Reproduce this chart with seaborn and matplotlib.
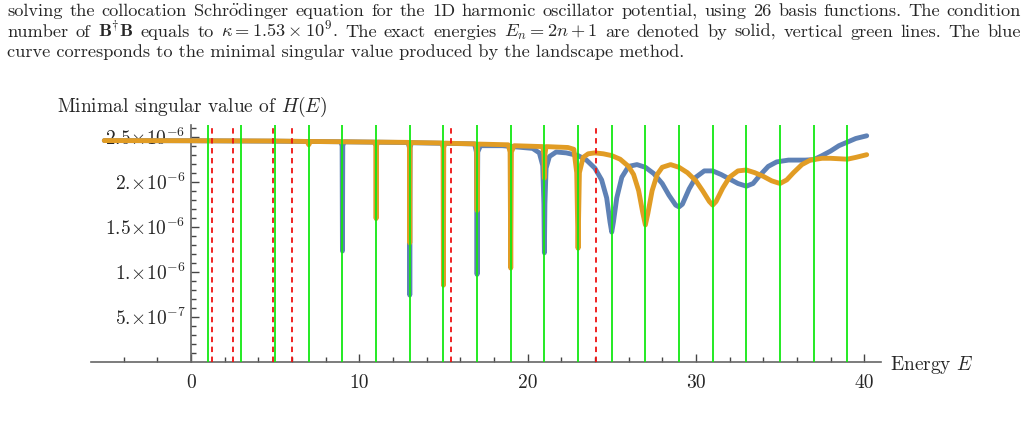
import re
import numpy as np
import pandas as pd
import matplotlib
matplotlib.use("Agg")
import matplotlib.pyplot as plt
import seaborn as sns

# ---- data (singular values in units of 1e-6) ----
blue_E = [-5.15, 0, 5, 8.9, 8.98, 9.0, 9.02, 9.1, 12.9, 12.98, 13.0, 13.02, 13.1,
          16.85, 16.96, 17.0, 17.04, 17.2, 18.5, 20.3, 20.7, 20.9, 20.97, 21.0, 21.03,
          21.1, 21.3, 21.7, 22.3, 23.0, 23.5, 24.0, 24.4, 24.7, 24.9, 25.0, 25.1, 25.3,
          25.6, 26.0, 26.5, 27.0, 27.5, 28.0, 28.4, 28.8, 29.0, 29.2, 29.6, 30.0, 30.5,
          31.0, 31.5, 32.0, 32.5, 33.0, 33.4, 33.8, 34.3, 34.8, 35.5, 36.5, 37.0, 37.5,
          38.0, 38.5, 39.0, 39.5, 40.15]
blue_s = [2.457, 2.455, 2.45, 2.444, 2.40, 1.23, 2.40, 2.443, 2.435, 2.38, 0.74, 2.38, 2.433,
          2.42, 2.33, 0.97, 2.33, 2.40, 2.40, 2.37, 2.32, 2.18, 1.75, 1.21, 1.75,
          2.15, 2.28, 2.33, 2.32, 2.29, 2.24, 2.15, 2.02, 1.82, 1.55, 1.44, 1.55, 1.82,
          2.05, 2.17, 2.19, 2.16, 2.09, 1.98, 1.85, 1.74, 1.72, 1.75, 1.92, 2.05, 2.12,
          2.12, 2.08, 2.03, 1.98, 1.95, 1.98, 2.07, 2.17, 2.22, 2.24, 2.24, 2.245, 2.29,
          2.34, 2.40, 2.44, 2.48, 2.51]

orange_E = [-5.15, 0, 5, 6.9, 7.0, 7.1, 10.9, 10.98, 11.0, 11.02, 11.1, 12.9, 12.98, 13.0,
            13.02, 13.1, 14.9, 14.98, 15.0, 15.02, 15.1, 16.9, 16.97, 17.0, 17.03, 17.1,
            18.85, 18.96, 19.0, 19.04, 19.2, 20.9, 20.97, 21.0, 21.03, 21.1, 22.4, 22.75,
            22.92, 23.0, 23.08, 23.3, 23.6, 24.0, 24.5, 25.0, 25.5, 26.0, 26.3, 26.6, 26.85,
            27.0, 27.15, 27.4, 27.7, 28.0, 28.5, 29.0, 29.5, 30.0, 30.4, 30.8, 31.0, 31.2,
            31.6, 32.0, 32.5, 33.0, 33.5, 34.0, 34.5, 35.0, 35.4, 35.8, 36.3, 36.8, 37.5,
            38.0, 38.5, 39.0, 39.5, 40.15]
orange_s = [2.457, 2.455, 2.452, 2.447, 2.41, 2.447, 2.44, 2.40, 1.59, 2.40, 2.44, 2.437, 2.40, 1.32,
            2.40, 2.435, 2.43, 2.38, 0.85, 2.38, 2.428, 2.42, 2.38, 1.68, 2.38, 2.418,
            2.41, 2.33, 1.04, 2.33, 2.40, 2.39, 2.30, 2.04, 2.30, 2.39, 2.38, 2.36,
            2.10, 1.26, 2.10, 2.27, 2.31, 2.32, 2.31, 2.29, 2.25, 2.17, 2.08, 1.90, 1.65,
            1.52, 1.65, 1.90, 2.08, 2.16, 2.19, 2.16, 2.10, 2.01, 1.90, 1.78, 1.74, 1.78,
            1.93, 2.05, 2.12, 2.13, 2.10, 2.06, 2.01, 1.98, 2.02, 2.10, 2.19, 2.24, 2.26,
            2.26, 2.255, 2.25, 2.27, 2.30]

green_E = [1, 3, 5, 7, 9, 11, 13, 15, 17, 19, 21, 23, 25, 27, 29, 31, 33, 35, 37, 39]
red_E = [1.27, 2.51, 4.89, 5.98, 15.45, 24.05]

xtick_major = [0, 10, 20, 30, 40]
xtick_minor = [-4, -2, 2, 4, 6, 8, 12, 14, 16, 18, 22, 24, 26, 28, 32, 34, 36, 38]
ytick_major = [0.5, 1.0, 1.5, 2.0, 2.5]
ytick_labels = [r'5.$\!\times\!10^{-7}$', r'1.$\!\times\!10^{-6}$', r'1.5$\!\times\!10^{-6}$',
                r'2.$\!\times\!10^{-6}$', r'2.5$\!\times\!10^{-6}$']
ytick_minor = [0.1, 0.2, 0.3, 0.4, 0.6, 0.7, 0.8, 0.9, 1.1, 1.2, 1.3, 1.4, 1.6, 1.7,
               1.8, 1.9, 2.1, 2.2, 2.3, 2.4, 2.6]

caption = [
    r"solving the collocation Schr$\ddot{\mathrm{o}}$dinger equation for the 1D harmonic oscillator potential, using 26 basis functions. The condition",
    r"number of $\mathbf{B}^{\dagger}\mathbf{B}$ equals to $\kappa = 1.53\times10^{9}$. The exact energies $E_n = 2n+1$ are denoted by solid, vertical green lines. The blue",
    "curve corresponds to the minimal singular value produced by the landscape method.",
]
caption_justify = [True, True, False]

sns.set_style("ticks")
plt.rcParams['font.family'] = ['cmr10', 'DejaVu Serif']
plt.rcParams['mathtext.fontset'] = 'cm'
plt.rcParams['axes.formatter.use_mathtext'] = True

blue_df = pd.DataFrame({'E': blue_E, 's': blue_s})
orange_df = pd.DataFrame({'E': orange_E, 's': orange_s})

fig = plt.figure(figsize=(10.28, 4.22), dpi=100)
ax = fig.add_axes([0.0882, 0.1429, 0.7688, 0.5609])

sns.lineplot(data=blue_df, x='E', y='s', estimator=None, sort=False, color='#5E81B5',
             lw=3.5, ax=ax, zorder=2)
sns.lineplot(data=orange_df, x='E', y='s', estimator=None, sort=False, color='#E19C24',
             lw=3.5, ax=ax, zorder=3)

ax.vlines(green_E, 0, 2.63, colors='#12e812', lw=1.3, zorder=4)
ax.vlines(red_E, 0, 2.63, colors='#ee1111', lw=1.3, linestyles=(0, (3, 2.5)), zorder=5)

ax.set_xlim(-5.96, 41.0)
ax.set_ylim(0, 2.63)
ax.set_xlabel('')
ax.set_ylabel('')

# Mathematica-style crossing axes
ax.spines['left'].set_position(('data', 0))
ax.spines['right'].set_visible(False)
ax.spines['top'].set_visible(False)
for s in ['left', 'bottom']:
    ax.spines[s].set_color('#666666')
    ax.spines[s].set_linewidth(1.2)

ax.set_xticks(xtick_major)
ax.set_xticklabels([str(v) for v in xtick_major])
ax.set_xticks(xtick_minor, minor=True)
ax.set_yticks(ytick_major)
ax.set_yticklabels(ytick_labels)
ax.set_yticks(ytick_minor, minor=True)
ax.tick_params(which='both', direction='in', color='#444444', labelsize=14, width=1)
ax.tick_params(which='major', length=6)
ax.tick_params(which='minor', length=3.5)
ax.tick_params(axis='x', pad=9)
ax.tick_params(axis='y', pad=4)

fig.text(0.0554, 0.7353, r'Minimal singular value of $H(E)$', fontsize=14, va='baseline')
fig.text(0.866, 0.123, r'Energy $E$', fontsize=14, va='baseline')

# caption above the plot, justified like the paper text
W = 1028
renderer = fig.canvas.get_renderer()
for i, line in enumerate(caption):
    y = 1 - (16 + 20.7 * i) / 422
    if not caption_justify[i]:
        fig.text(7 / W, y, line, fontsize=13.2, va='baseline')
        continue
    words = re.findall(r'(?:\$[^$]*\$|\S)+', line)
    texts = [fig.text(0, y, w, fontsize=13.2, va='baseline') for w in words]
    widths = [t.get_window_extent(renderer).width for t in texts]
    gap = (1021 - 7 - sum(widths)) / (len(words) - 1)
    x = 7
    for t, w in zip(texts, widths):
        t.set_x(x / W)
        x += w + gap

fig.savefig('out.png', dpi=100)
